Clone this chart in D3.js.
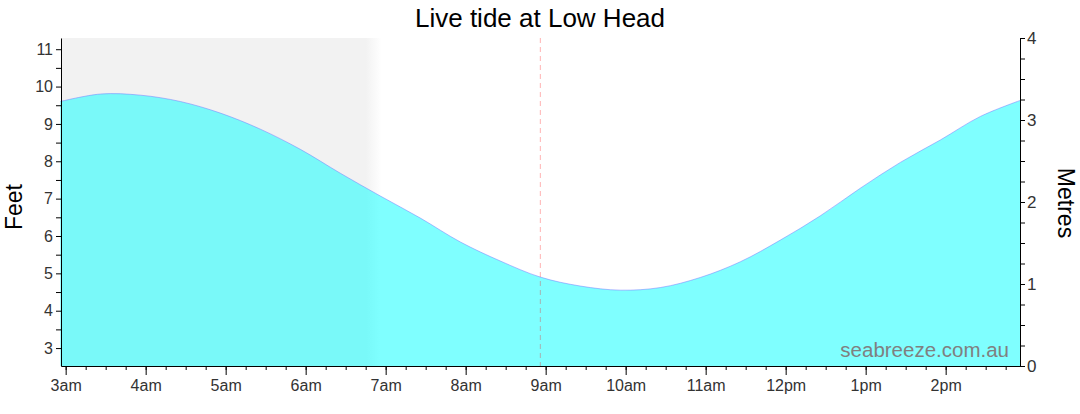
<!DOCTYPE html>
<html>
<head>
<meta charset="utf-8">
<script src="https://cdn.jsdelivr.net/npm/d3@7"></script>
<style>
  body { margin: 0; background: #fff; }
  svg { display: block; font-family: "Liberation Sans", Arial, sans-serif; }
  .tick text { fill: #333; }
</style>
</head>
<body>
<div id="chart"></div>
<script>
// Tide heights (feet), every half hour
const tideTimes = ["02:56", "03:26", "03:56", "04:26", "04:56", "05:26", "05:56", "06:26",
    "06:56", "07:26", "07:56", "08:26", "08:56", "09:26", "09:56", "10:26",
    "10:56", "11:26", "11:56", "12:26", "12:56", "13:26", "13:56", "14:26", "14:56"];
const tideFeet = [9.60, 9.80, 9.77, 9.60, 9.29, 8.86, 8.32, 7.68,
    7.07, 6.48, 5.84, 5.33, 4.90, 4.66, 4.55, 4.62,
    4.89, 5.31, 5.89, 6.54, 7.28, 7.97, 8.57, 9.20, 9.63];

const hourTicks = [3, 4, 5, 6, 7, 8, 9, 10, 11, 12, 13, 14];
const feetTicks = [3, 4, 5, 6, 7, 8, 9, 10, 11];
const metreTicks = [0, 1, 2, 3, 4];

const domainStart = "02:56:30";
const domainEnd = "14:56:30";
const nightSolidEnd = "06:45";
const nightFadeEnd = "06:57";
const nowTime = "08:56";

const parseT = s => {
    const p = s.split(":").map(Number);
    return new Date(2024, 0, 1, p[0], p[1], p[2] || 0);
};

const data = tideTimes.map((t, i) => ({ time: parseT(t), feet: tideFeet[i] }));

const W = 1080, H = 414;
const margin = { top: 38, right: 60, bottom: 48, left: 61 };

const svg = d3.select("#chart").append("svg")
    .attr("width", W)
    .attr("height", H);

const x = d3.scaleTime()
    .domain([parseT(domainStart), parseT(domainEnd)])
    .range([margin.left, W - margin.right + 1]);

const yFt = d3.scaleLinear()
    .domain([2.52, 11.3])
    .range([H - margin.bottom, margin.top]);

const yM = d3.scaleLinear()
    .domain([0, 4])
    .range([H - margin.bottom, margin.top]);

// Night shading with a soft edge at sunrise
const defs = svg.append("defs");
const grad = defs.append("linearGradient")
    .attr("id", "night")
    .attr("x1", "0%").attr("x2", "100%").attr("y1", "0%").attr("y2", "0%");
const nx0 = x(parseT(domainStart)), nx1 = x(parseT(nightSolidEnd)), nx2 = x(parseT(nightFadeEnd));
grad.append("stop").attr("offset", "0%").attr("stop-color", "#f2f2f2");
grad.append("stop").attr("offset", ((nx1 - nx0) / (nx2 - nx0) * 100) + "%").attr("stop-color", "#f2f2f2");
grad.append("stop").attr("offset", "100%").attr("stop-color", "#ffffff");

svg.append("rect")
    .attr("x", nx0)
    .attr("y", margin.top)
    .attr("width", nx2 - nx0)
    .attr("height", yFt.range()[0] - margin.top)
    .attr("fill", "url(#night)");

// Tide area
const area = d3.area()
    .x(d => x(d.time))
    .y0(yFt.range()[0])
    .y1(d => yFt(d.feet))
    .curve(d3.curveCatmullRom);

const line = d3.line()
    .x(d => x(d.time))
    .y(d => yFt(d.feet))
    .curve(d3.curveCatmullRom);

svg.append("path")
    .datum(data)
    .attr("fill", "cyan")
    .attr("fill-opacity", 0.5)
    .attr("d", area);

svg.append("path")
    .datum(data)
    .attr("fill", "none")
    .attr("stroke", "rgb(120,120,255)")
    .attr("stroke-opacity", 0.5)
    .attr("stroke-width", 1)
    .attr("d", line);

// Current time marker
svg.append("line")
    .attr("x1", x(parseT(nowTime))).attr("x2", x(parseT(nowTime)))
    .attr("y1", margin.top).attr("y2", yFt.range()[0])
    .attr("stroke", "red")
    .attr("stroke-opacity", 0.3)
    .attr("stroke-dasharray", "5,4");

// Watermark
svg.append("text")
    .attr("x", 1009)
    .attr("y", 357)
    .attr("text-anchor", "end")
    .attr("fill", "#808080")
    .style("font-size", "20.5px")
    .text("seabreeze.com.au");

// Axes
const fmtHour = h => (h % 12 === 0 ? 12 : h % 12) + (h < 12 ? "am" : "pm");

const xMinor = d3.timeMinute.every(15).range(parseT(domainStart), parseT(domainEnd));
svg.append("g")
    .attr("transform", "translate(0," + yFt.range()[0] + ")")
    .call(d3.axisBottom(x).tickValues(xMinor).tickSize(4).tickFormat(""))
    .call(g => g.select(".domain").remove());

svg.append("g")
    .attr("transform", "translate(0," + yFt.range()[0] + ")")
    .call(d3.axisBottom(x)
        .tickValues(hourTicks.map(h => new Date(2024, 0, 1, h)))
        .tickSize(9)
        .tickSizeOuter(0)
        .tickPadding(5)
        .tickFormat(d => fmtHour(d.getHours())))
    .call(g => g.selectAll(".tick text").style("font-size", "16px"));

const ftMinor = d3.range(3.5, 11, 1);
svg.append("g")
    .attr("transform", "translate(" + margin.left + ",0)")
    .call(d3.axisLeft(yFt).tickValues(ftMinor).tickSize(5).tickFormat(""))
    .call(g => g.select(".domain").remove());

svg.append("g")
    .attr("transform", "translate(" + margin.left + ",0)")
    .call(d3.axisLeft(yFt)
        .tickValues(feetTicks)
        .tickSize(5)
        .tickSizeOuter(0)
        .tickPadding(3))
    .call(g => g.selectAll(".tick text").style("font-size", "16px"));

const mMinor = d3.range(0.25, 4, 0.25).filter(v => Math.abs(v - Math.round(v)) > 0.01);
const xRight = W - margin.right;
svg.append("g")
    .attr("transform", "translate(" + xRight + ",0)")
    .call(d3.axisRight(yM).tickValues(mMinor).tickSize(5).tickFormat(""))
    .call(g => g.select(".domain").remove());

svg.append("g")
    .attr("transform", "translate(" + xRight + ",0)")
    .call(d3.axisRight(yM)
        .tickValues(metreTicks)
        .tickSize(5)
        .tickSizeOuter(0)
        .tickPadding(2)
        .tickFormat(d3.format("d")))
    .call(g => g.selectAll(".tick text").style("font-size", "17px"));

// Titles
svg.append("text")
    .attr("x", 540)
    .attr("y", 27)
    .attr("text-anchor", "middle")
    .attr("fill", "#000")
    .style("font-size", "26px")
    .text("Live tide at Low Head");

svg.append("text")
    .attr("transform", "translate(22,207) rotate(-90)")
    .attr("text-anchor", "middle")
    .attr("fill", "#000")
    .style("font-size", "23px")
    .text("Feet");

svg.append("text")
    .attr("transform", "translate(1058,203) rotate(90)")
    .attr("text-anchor", "middle")
    .attr("fill", "#000")
    .style("font-size", "23px")
    .text("Metres");
</script>
</body>
</html>
